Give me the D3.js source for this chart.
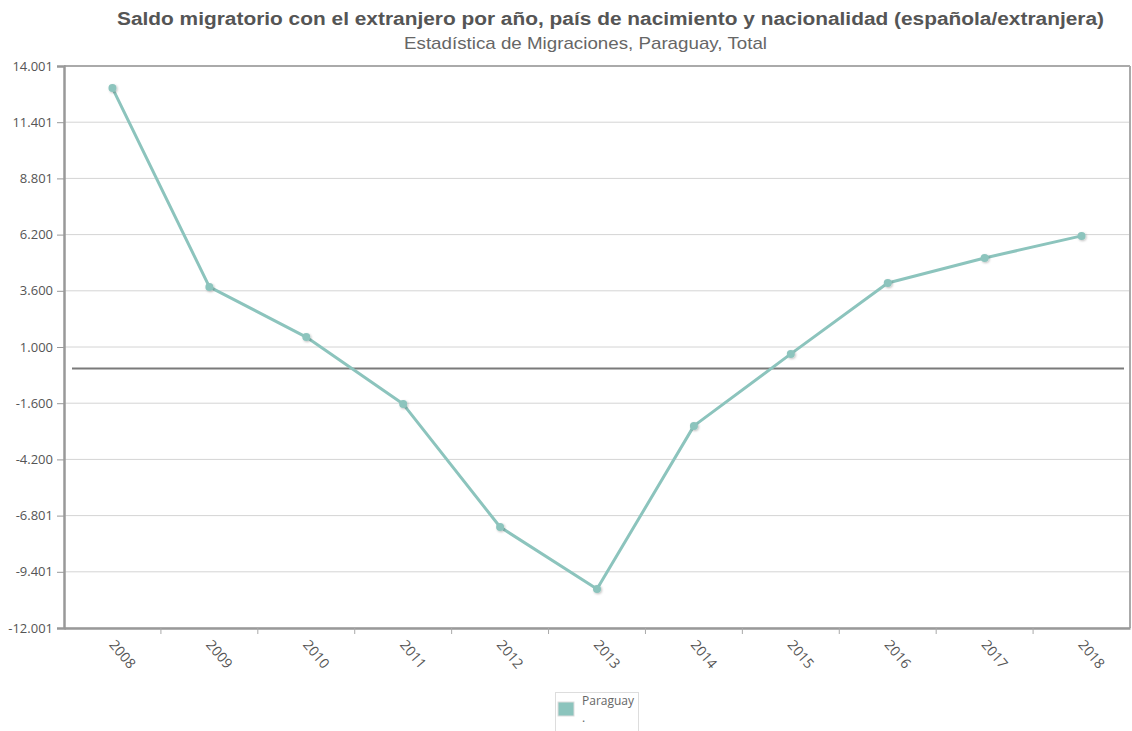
<!DOCTYPE html>
<html>
<head>
<meta charset="utf-8">
<script src="https://cdn.jsdelivr.net/npm/d3@7"></script>
<style>
  body { margin: 0; background: #fff; }
  svg { display: block; }
</style>
</head>
<body>
<svg width="1132" height="731"></svg>
<script>
var years = ["2008", "2009", "2010", "2011", "2012", "2013", "2014", "2015", "2016", "2017", "2018"];
var paraguay = [12980, 3780, 1460, -1640, -7330, -10200, -2650, 680, 3960, 5120, 6140];
var yTicks = [-12001, -9401, -6801, -4200, -1600, 1000, 3600, 6200, 8801, 11401, 14001];
var seriesName = "Paraguay";

var svg = d3.select("svg"),
    width = +svg.attr("width"),
    height = +svg.attr("height");

var pLeft = 64, pRight = 1130, pTop = 66, pBottom = 628;

var x = d3.scaleBand().domain(years).range([pLeft, pRight]);
var y = d3.scaleLinear().domain([-12001, 14001]).range([pBottom, pTop]);

var fmt = function (v) {
    var n = Math.round(v);
    var s = Math.abs(n).toString().replace(/\B(?=(\d{3})+(?!\d))/g, ".");
    return (n < 0 ? "-" : "") + s;
};

// shadow for points
var defs = svg.append("defs");
var f = defs.append("filter").attr("id", "shadow").attr("x", "-50%").attr("y", "-50%").attr("width", "200%").attr("height", "200%");
f.append("feDropShadow").attr("dx", 1).attr("dy", 1).attr("stdDeviation", 0.8).attr("flood-color", "#000").attr("flood-opacity", 0.25);

// title (stretched to the reference width)
svg.append("text")
    .attr("x", 117).attr("y", 25)
    .attr("textLength", 987)
    .attr("lengthAdjust", "spacingAndGlyphs")
    .style("font-family", "Liberation Sans, Arial, sans-serif")
    .style("font-size", "18px")
    .style("font-weight", "bold")
    .style("fill", "#555")
    .text("Saldo migratorio con el extranjero por año, país de nacimiento y nacionalidad (española/extranjera)");

svg.append("text")
    .attr("x", 404).attr("y", 49)
    .attr("textLength", 363)
    .attr("lengthAdjust", "spacingAndGlyphs")
    .style("font-family", "Liberation Sans, Arial, sans-serif")
    .style("font-size", "17px")
    .style("fill", "#666")
    .text("Estadística de Migraciones, Paraguay, Total");

// gridlines
svg.append("g")
    .selectAll("line")
    .data(yTicks)
    .enter().append("line")
    .attr("x1", pLeft).attr("x2", pRight)
    .attr("y1", function (d) { return y(d); })
    .attr("y2", function (d) { return y(d); })
    .attr("stroke", "#d4d4d4")
    .attr("stroke-width", 1);

// frame (top and right)
svg.append("line").attr("x1", pLeft).attr("x2", pRight).attr("y1", pTop).attr("y2", pTop)
    .attr("stroke", "#aaa").attr("stroke-width", 2);
svg.append("line").attr("x1", pRight).attr("x2", pRight).attr("y1", pTop).attr("y2", pBottom)
    .attr("stroke", "#aaa").attr("stroke-width", 2);

// y axis
var yAxis = svg.append("g")
    .attr("transform", "translate(" + pLeft + ",0)")
    .call(d3.axisLeft(y).tickValues(yTicks).tickFormat(fmt).tickSize(7).tickPadding(4));
yAxis.select(".domain").attr("stroke", "#999").attr("stroke-width", 2.5);
yAxis.selectAll(".tick line").attr("stroke", "#999");
yAxis.selectAll("text")
    .style("font-family", "Open Sans, sans-serif")
    .style("font-size", "13px")
    .style("fill", "#555");

// x axis
var xAxis = svg.append("g")
    .attr("transform", "translate(0," + pBottom + ")")
    .call(d3.axisBottom(x).tickSize(0).tickPadding(0));
xAxis.select(".domain").attr("stroke", "#999").attr("stroke-width", 2.5);
xAxis.selectAll(".tick text")
    .attr("y", 0)
    .attr("dy", 0)
    .attr("transform", "translate(-4,17) rotate(50)")
    .attr("text-anchor", "start")
    .style("font-family", "Open Sans, sans-serif")
    .style("font-size", "14px")
    .style("fill", "#555");

// x ticks at category boundaries
svg.append("g")
    .selectAll("line")
    .data(years.slice(1))
    .enter().append("line")
    .attr("x1", function (d) { return x(d); })
    .attr("x2", function (d) { return x(d); })
    .attr("y1", pBottom).attr("y2", pBottom + 6)
    .attr("stroke", "#aaa");

// zero line
svg.append("line")
    .attr("x1", pLeft + 8).attr("x2", pRight - 6)
    .attr("y1", y(0)).attr("y2", y(0))
    .attr("stroke", "#7a7a7a").attr("stroke-width", 2);

// series line
var line = d3.line()
    .x(function (d, i) { return x(years[i]) + x.bandwidth() / 2; })
    .y(function (d) { return y(d); });

svg.append("path")
    .datum(paraguay)
    .attr("d", line)
    .attr("fill", "none")
    .attr("stroke", "#8cc4bd")
    .attr("stroke-width", 3)
    .attr("stroke-linejoin", "round");

svg.append("g")
    .selectAll("circle")
    .data(paraguay)
    .enter().append("circle")
    .attr("cx", function (d, i) { return x(years[i]) + x.bandwidth() / 2; })
    .attr("cy", function (d) { return y(d); })
    .attr("r", 4)
    .attr("fill", "#8cc4bd")
    .attr("filter", "url(#shadow)");

// legend
var lg = svg.append("g").attr("transform", "translate(555,692)");
lg.append("rect").attr("x", 0.5).attr("y", 0.5).attr("width", 83).attr("height", 45)
    .attr("fill", "#fff").attr("stroke", "#ddd");
lg.append("rect").attr("x", 3).attr("y", 10).attr("width", 16).attr("height", 14)
    .attr("fill", "#8cc4bd").attr("stroke", "#ddd");
lg.append("text").attr("x", 27).attr("y", 13)
    .style("font-family", "Open Sans, sans-serif")
    .style("font-size", "12px")
    .style("fill", "#666")
    .text(seriesName);
lg.append("text").attr("x", 27).attr("y", 30)
    .style("font-family", "Open Sans, sans-serif")
    .style("font-size", "12px")
    .style("fill", "#666")
    .text(".");
</script>
</body>
</html>
